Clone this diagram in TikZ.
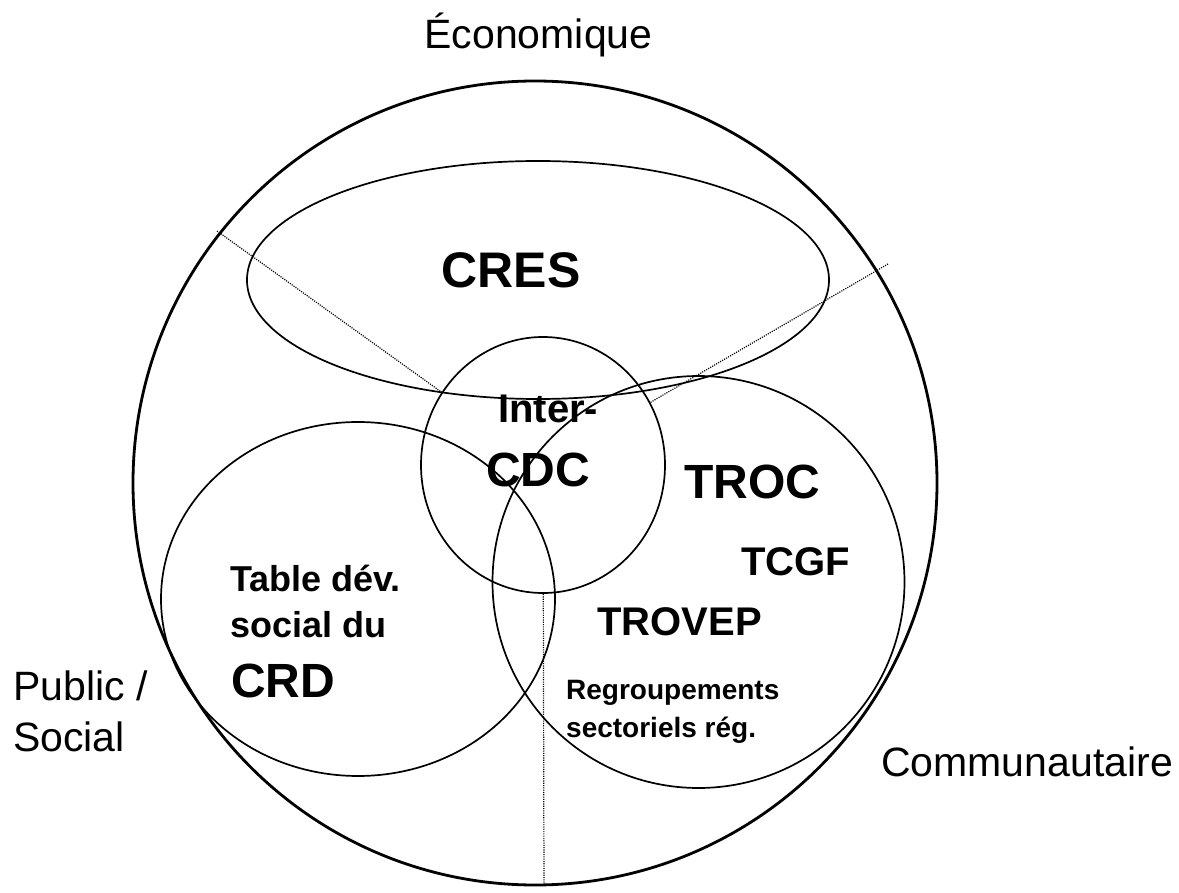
\documentclass[tikz,border=0pt]{standalone}
\usepackage{fontspec}
\setmainfont{Liberation Sans}
\usetikzlibrary{shapes.geometric}
\begin{document}
\begin{tikzpicture}[x=1pt,y=-1pt,
  ring/.style={draw,ellipse,inner sep=0pt,outer sep=0pt,line width=1.7pt},
  guide/.style={line width=1.2pt,dash pattern=on 1.1pt off 1.2pt},
  lbl/.style={inner sep=0pt,anchor=base west,font=\fontsize{41}{49}\selectfont},
  big/.style={inner sep=0pt,anchor=base west,font=\bfseries\fontsize{48}{56}\selectfont},
  mid/.style={inner sep=0pt,anchor=base west,font=\bfseries\fontsize{40}{48}\selectfont},
  small/.style={inner sep=0pt,anchor=base west,font=\bfseries\fontsize{28}{34}\selectfont}]
\useasboundingbox (0,0) rectangle (1179,893);
% outer circle
\node[ring,line width=2.8pt,minimum width=804pt,minimum height=804pt] (outer) at (535,483) {};
% sets
\node[ring,minimum width=582pt,minimum height=238pt] (cres) at (538,280) {};
\node[ring,minimum width=244pt,minimum height=256pt] (inter) at (543,465) {};
\node[ring,minimum width=394pt,minimum height=354pt] (crd) at (358,599) {};
\node[ring,minimum width=412pt,minimum height=412pt] (troc) at (698.5,582) {};
% sector guides
\coordinate (g1) at (217,231);
\coordinate (g2) at (888,264);
\coordinate (g3) at (544,885);
\draw[guide] (g1) -- (inter);
\draw[guide] (g2) -- (inter);
\draw[guide] (g3) -- (inter);
% texts
\node[lbl,anchor=base] (eco) at (538.5,49) {Économique};
\node[lbl] (pub1) at (13,700) {Public /};
\node[lbl] (pub2) at (13,751) {Social};
\node[lbl] (com) at (881,776) {Communautaire};
\node[big,font=\bfseries\fontsize{50}{58}\selectfont,anchor=base] (cresl) at (511,288) {CRES};
\node[mid] (inter1) at (498,423) {Inter-};
\node[big] (inter2) at (486,486) {CDC};
\node[big] (trocl) at (684,498) {TROC};
\node[mid] (tcgf) at (741,575) {TCGF};
\node[mid] (trovep) at (597,635) {TROVEP};
\node[small] (reg1) at (566,699) {Regroupements};
\node[small] (reg2) at (566,737) {sectoriels rég.};
\node[mid,font=\bfseries\fontsize{36}{44}\selectfont] (tab1) at (230,591) {Table dév.};
\node[mid,font=\bfseries\fontsize{36}{44}\selectfont] (tab2) at (230,637) {social du};
\node[big] (crdl) at (231,697) {CRD};
\end{tikzpicture}
\end{document}
